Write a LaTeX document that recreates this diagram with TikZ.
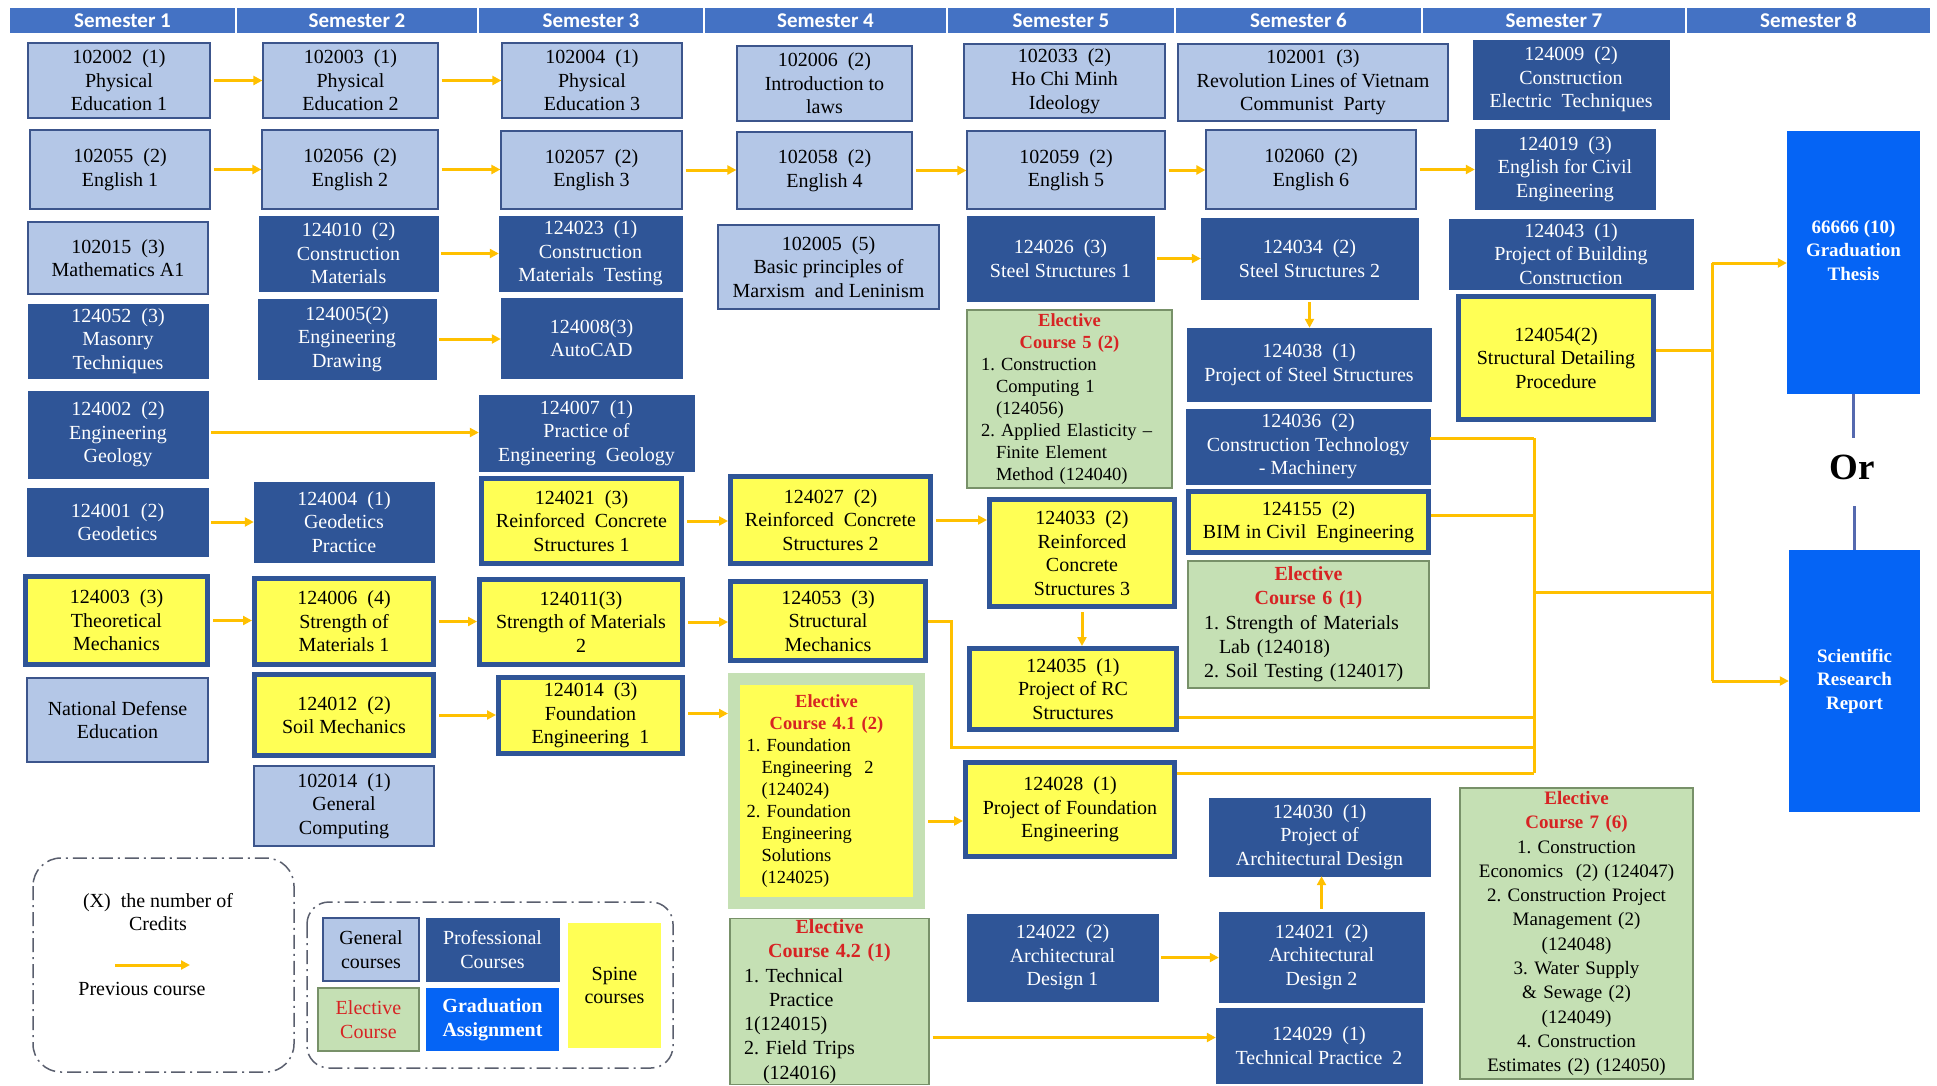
\documentclass[tikz,border=0pt]{standalone}
\usepackage{fontspec}
\setmainfont{Liberation Serif}
\newfontfamily\semfont{Carlito}
\usetikzlibrary{arrows.meta}
\frenchspacing

\definecolor{genblue}{RGB}{180,199,231}
\definecolor{genline}{RGB}{60,85,140}
\definecolor{profblue}{RGB}{47,85,151}
\definecolor{spineyellow}{RGB}{255,255,85}
\definecolor{electgreen}{RGB}{197,224,180}
\definecolor{electline}{RGB}{120,145,105}
\definecolor{electred}{RGB}{215,35,35}
\definecolor{gradblue}{RGB}{5,100,245}
\definecolor{headblue}{RGB}{68,114,196}
\definecolor{linkyellow}{RGB}{255,192,0}
\definecolor{orblue}{RGB}{85,105,175}
\definecolor{keyline}{RGB}{90,95,110}

\newcommand{\elhead}[1]{\makebox[\hsize]{\bfseries\color{electred}#1}}
\newcommand{\subind}{\hspace*{15pt}}

\tikzset{
  sz/.style 2 args={minimum width=#1, minimum height=#2},
  course/.style={inner sep=1pt, align=center, font=\fontsize{20}{23.5}\selectfont},
  gen/.style={course, fill=genblue, draw=genline, line width=1.2pt},
  prof/.style={course, fill=profblue, draw=profblue, text=white},
  spine/.style={course, fill=spineyellow, draw=profblue, line width=5pt},
  elect/.style={inner sep=1pt, align=left, fill=electgreen, draw=electline, line width=1.3pt, font=\fontsize{20}{24.3}\selectfont},
  electsm/.style={elect, font=\fontsize{18.5}{22}\selectfont},
  grad/.style={course, fill=gradblue, text=white, font=\fontsize{19}{23.5}\selectfont\bfseries},
  semhead/.style={fill=headblue, draw=white, line width=1.5pt, text=white, minimum height=26, inner sep=0pt, font=\semfont\fontsize{21}{24}\selectfont\bfseries},
  prereq/.style={draw=linkyellow, line width=3pt, -{Triangle[length=9pt,width=9pt]}, shorten <=3pt},
  feed/.style={draw=linkyellow, line width=3pt},
  orconn/.style={draw=orblue, line width=3pt},
  keyframe/.style={draw=keyline, line width=1.5pt, dash pattern=on 14pt off 5pt on 2pt off 5pt},
}

\begin{document}
\begin{tikzpicture}[x=1pt, y=-1pt]
    \useasboundingbox (0,0) rectangle (1937,1085);
    \fill[white] (0,0) rectangle (1937,1085);

    % semester bar
    \foreach \xa/\xb [count=\i] in {9/236,236/478,478/704,704/947,947/1175,1175/1422,1422/1686,1686/1931}
        \node[semhead, minimum width=\xb-\xa] (sem\i) at ({(\xa+\xb)/2},20.5) {Semester \i};

    % general courses
    \node[gen, sz={182}{75}] (g102002) at (119,80.5) {102002~~(1)\\Physical\\Education 1};
    \node[gen, sz={175}{75}] (g102003) at (350.5,80.5) {102003~~(1)\\Physical\\Education 2};
    \node[gen, sz={180}{75}] (g102004) at (592,80.5) {102004~~(1)\\Physical\\Education 3};
    \node[gen, sz={175}{75}] (g102006) at (824.5,83.5) {102006~~(2)\\Introduction to\\laws};
    \node[gen, sz={201}{74}] (g102033) at (1064.5,81) {102033~~(2)\\Ho Chi Minh\\Ideology};
    \node[gen, sz={270}{77}] (g102001) at (1313,82.5) {102001~~(3)\\Revolution Lines of Vietnam\\Communist~~Party};
    \node[gen, sz={180}{79}] (g102055) at (120,169.5) {102055~~(2)\\English 1};
    \node[gen, sz={176}{79}] (g102056) at (350,169.5) {102056~~(2)\\English 2};
    \node[gen, sz={181}{78}] (g102057) at (591.5,170) {102057~~(2)\\English 3};
    \node[gen, sz={175}{77}] (g102058) at (824.5,170.5) {102058~~(2)\\English 4};
    \node[gen, sz={198}{78}] (g102059) at (1066,170) {102059~~(2)\\English 5};
    \node[gen, sz={210}{79}] (g102060) at (1311,169.5) {102060~~(2)\\English 6};
    \node[gen, sz={180}{72}] (g102015) at (118,258) {102015~~(3)\\Mathematics A1};
    \node[gen, sz={221}{84}] (g102005) at (828.5,267) {102005~~(5)\\Basic principles of\\Marxism~~and Leninism};
    \node[gen, sz={181}{84}] (gNDE) at (117.5,720) {National Defense\\Education};
    \node[gen, sz={180}{80}] (g102014) at (344,806) {102014~~(1)\\General\\Computing};

    % professional courses
    \node[prof, sz={179}{75}] (p124010) at (348.5,253.5) {124010~~(2)\\Construction\\Materials};
    \node[prof, sz={183}{75}] (p124023) at (590.5,253.5) {124023~~(1)\\Construction\\Materials~~Testing};
    \node[prof, sz={180}{74}] (p124052) at (118,341) {124052~~(3)\\Masonry\\Techniques};
    \node[prof, sz={178}{80}] (p124005) at (347,339) {124005(2)\\Engineering\\Drawing};
    \node[prof, sz={181}{80}] (p124008) at (591.5,338) {124008(3)\\AutoCAD};
    \node[prof, sz={180}{87}] (p124002) at (118,434.5) {124002~~(2)\\Engineering\\Geology};
    \node[prof, sz={215}{76}] (p124007) at (586.5,433) {124007~~(1)\\Practice of\\Engineering~~Geology};
    \node[prof, sz={181}{68}] (p124001) at (117.5,522) {124001~~(2)\\Geodetics};
    \node[prof, sz={180}{80}] (p124004) at (344,522) {124004~~(1)\\Geodetics\\Practice};
    \node[prof, sz={187}{85}] (p124026) at (1060.5,258.5) {124026~~(3)\\Steel Structures 1};
    \node[prof, sz={217}{81}] (p124034) at (1309.5,258.5) {124034~~(2)\\Steel Structures 2};
    \node[prof, sz={244}{73}] (p124038) at (1309,364.5) {124038~~(1)\\Project of Steel Structures};
    \node[prof, sz={244}{75}] (p124036) at (1308,446.5) {124036~~(2)\\Construction Technology\\- Machinery};
    \node[prof, sz={196}{79}] (p124009) at (1571,79.5) {124009~~(2)\\Construction\\Electric~~Techniques};
    \node[prof, sz={180}{80}] (p124019) at (1565,169) {124019~~(3)\\English for Civil\\Engineering};
    \node[prof, sz={244}{70}] (p124043) at (1571,254) {124043~~(1)\\Project of Building\\Construction};
    \node[prof, sz={221}{78}] (p124030) at (1319.5,837) {124030~~(1)\\Project of\\Architectural Design};
    \node[prof, sz={191}{87}] (p124022) at (1062.5,957.5) {124022~~(2)\\Architectural\\Design 1};
    \node[prof, sz={205}{90}] (p124021b) at (1321.5,957) {124021~~(2)\\Architectural\\Design 2};
    \node[prof, sz={206}{75}] (p124029) at (1319,1045.5) {124029~~(1)\\Technical Practice~~2};

    % spine courses
    \node[spine, sz={200}{85}] (s124021) at (581.5,521) {124021~~(3)\\Reinforced~~Concrete\\Structures 1};
    \node[spine, sz={182}{88}] (s124003) at (116.5,620.5) {124003~~(3)\\Theoretical\\Mechanics};
    \node[spine, sz={179}{86}] (s124006) at (344,621.5) {124006~~(4)\\Strength of\\Materials 1};
    \node[spine, sz={203}{85}] (s124011) at (581,622) {124011(3)\\Strength of Materials\\2};
    \node[spine, sz={179}{81}] (s124012) at (344,715) {124012~~(2)\\Soil Mechanics};
    \node[spine, sz={184}{76}] (s124014) at (590.5,715.5) {124014~~(3)\\Foundation\\Engineering~~1};
    \node[spine, sz={200}{87}] (s124027) at (830.5,520) {124027~~(2)\\Reinforced~~Concrete\\Structures 2};
    \node[spine, sz={195}{79}] (s124053) at (828,621) {124053~~(3)\\Structural\\Mechanics};
    \node[spine, sz={185}{107}] (s124033) at (1082,553) {124033~~(2)\\Reinforced\\Concrete\\Structures 3};
    \node[spine, sz={207}{81}] (s124035) at (1073,689) {124035~~(1)\\Project of RC\\Structures};
    \node[spine, sz={209}{94}] (s124028) at (1070,809.5) {124028~~(1)\\Project of Foundation\\Engineering};
    \node[spine, sz={240}{61}] (s124155) at (1308.5,522) {124155~~(2)\\BIM in Civil~~Engineering};
    \node[spine, sz={195}{123}] (s124054) at (1556,358) {124054(2)\\Structural Detailing\\Procedure};

    % elective courses
    \node[electsm, sz={205}{178}, text width=177] (e5) at (1069.5,399)
        {\elhead{Elective}\\\elhead{Course 5 (2)}\\1. Construction\\\subind Computing 1\\\subind(124056)\\2. Applied Elasticity --\\\subind Finite Element\\\subind Method (124040)};
    \node[elect, sz={241}{127}, text width=209] (e6) at (1308.5,624.5)
        {\elhead{Elective}\\\elhead{Course 6 (1)}\\1. Strength of Materials\\\subind Lab (124018)\\2. Soil Testing (124017)};
    \node[electsm, fill=spineyellow, draw=electgreen, line width=12pt, sz={185}{224}, text width=160] (e41) at (826.5,791)
        {\elhead{Elective}\\\elhead{Course 4.1 (2)}\\1. Foundation\\\subind Engineering~~2\\\subind(124024)\\2. Foundation\\\subind Engineering\\\subind Solutions\\\subind(124025)};
    \node[elect, sz={199}{165}, text width=171] (e42) at (829.5,1001.5)
        {\elhead{Elective}\\\elhead{Course 4.2 (1)}\\1. Technical\\\hspace*{25pt}Practice\\1(124015)\\2. Field Trips\\\hspace*{19pt}(124016)};
    \node[elect, align=center, sz={233}{291}, text width=225, font=\fontsize{19}{24.3}\selectfont] (e7) at (1576.5,933.5)
        {\elhead{Elective}\\\elhead{Course 7 (6)}\\1. Construction\\Economics~~(2)~(124047)\\2. Construction Project\\Management (2)\\(124048)\\3. Water Supply\\\& Sewage (2)\\(124049)\\4. Construction\\Estimates (2)~(124050)};

    % graduation
    \node[grad, sz={133}{263}, text depth=25pt] (thesis) at (1853.5,262.5) {66666 (10)\\Graduation\\Thesis};
    \node[grad, sz={131}{262}] (research) at (1854.5,681) {Scientific\\Research\\Report};
    \node[font=\fontsize{37}{40}\selectfont\bfseries] (ortext) at (1852,467) {Or};
    \draw[orconn] (thesis.south) -- ++(0,44);
    \draw[orconn] (research.north) -- ++(0,-44);

    % prerequisites
    \draw[prereq] (g102002.east) -- (g102002.east -| g102003.west);
    \draw[prereq] (g102003.east) -- (g102003.east -| g102004.west);
    \draw[prereq] (g102055.east) -- (g102055.east -| g102056.west);
    \draw[prereq] (g102056.east) -- (g102056.east -| g102057.west);
    \draw[prereq] (g102057.east) -- (g102057.east -| g102058.west);
    \draw[prereq] (g102058.east) -- (g102058.east -| g102059.west);
    \draw[prereq] (g102059.east) -- (g102059.east -| g102060.west);
    \draw[prereq] (g102060.east) -- (g102060.east -| p124019.west);
    \draw[prereq] (p124010.east) -- (p124010.east -| p124023.west);
    \draw[prereq] (p124005.east) -- (p124005.east -| p124008.west);
    \draw[prereq] ([yshift=2pt]p124002.east) -- ([yshift=2pt]p124002.east -| p124007.west);
    \draw[prereq] (p124001.east) -- (p124001.east -| p124004.west);
    \draw[prereq] (s124003.east) -- (s124003.east -| s124006.west);
    \draw[prereq] (s124006.east) -- (s124006.east -| s124011.west);
    \draw[prereq] (s124012.east) -- (s124012.east -| s124014.west);
    \draw[prereq] (s124021.east) -- (s124021.east -| s124027.west);
    \draw[prereq] (s124011.east) -- (s124011.east -| s124053.west);
    \draw[prereq] ([yshift=2pt]s124014.east) -- ([yshift=2pt]s124014.east -| e41.west);
    \draw[prereq] (s124027.east) -- (s124027.east -| s124033.west);
    \draw[prereq] (p124026.east) -- (p124026.east -| p124034.west);
    \draw[prereq] ([yshift=-30pt]e41.east) -- ([yshift=-30pt]e41.east -| s124028.west);
    \draw[prereq] ([yshift=-36pt]e42.east) -- ([yshift=-36pt]e42.east -| p124029.west);
    \draw[prereq] (p124022.east) -- (p124022.east -| p124021b.west);
    \draw[prereq] (p124021b.north) -- (p124021b.north |- p124030.south);
    \draw[prereq] (p124034.south) -- (p124034.south |- p124038.north);
    \draw[prereq] (s124033.south) -- (s124033.south |- s124035.north);

    % lines to graduation
    \coordinate (busLtop) at (1534,438);
    \coordinate (busLbot) at (1534,773);
    \coordinate (busLmid) at (1534,592);
    \coordinate (busRtop) at (1712,263);
    \coordinate (busRmid) at (1712,592);
    \coordinate (busRbot) at (1712,681);
    \coordinate (lowbend) at (951,747);
    \draw[feed] ([yshift=8pt]p124036.east) -- ([yshift=8pt]p124036.east -| busLtop);
    \draw[feed] ([yshift=7pt]s124155.east) -- ([yshift=7pt]s124155.east -| busLtop);
    \draw[feed] ([yshift=-28pt]s124035.east) -- ([yshift=-28pt]s124035.east -| busLtop);
    \draw[feed] (s124053.east) -| (lowbend) -- (lowbend -| busLtop);
    \draw[feed] ([yshift=36pt]s124028.east) -- ([yshift=36pt]s124028.east -| busLtop);
    \draw[feed] ([yshift=8pt]s124054.east) -- ([yshift=8pt]s124054.east -| busRtop);
    \draw[feed] (busLtop) -- (busLbot);
    \draw[feed] (busLmid) -- (busRmid);
    \draw[feed] (busRtop) -- (busRbot);
    \draw[prereq, shorten <=0pt] (busRtop) -- (busRtop -| thesis.west);
    \draw[prereq, shorten <=0pt] (busRbot) -- (busRbot -| research.west);

    % legend
    \draw[keyframe, rounded corners=28pt] (33,858) rectangle (294,1072);
    \node[course] (legcredit) at (158,912) {(X)~ the number of\\Credits};
    \coordinate (legA) at (115,965);
    \coordinate (legB) at (190,965);
    \draw[prereq, shorten <=0pt] (legA) -- (legB);
    \node[course] (legprev) at (142,989) {Previous course};

    \draw[keyframe, rounded corners=22pt] (307,902) rectangle (673,1068);
    \node[gen, sz={96}{63}] (keygen) at (371,949.5) {General\\courses};
    \node[prof, sz={133}{63}] (keyprof) at (492.5,949.5) {Professional\\Courses};
    \node[course, fill=electgreen, draw=electline, line width=1.3pt, text=electred, sz={101}{63}] (keyelect) at (368.5,1019.5) {Elective\\Course};
    \node[grad, font=\fontsize{20}{24}\selectfont\bfseries, sz={133}{63}] (keygrad) at (492.5,1019.5) {Graduation\\Assignment};
    \node[course, fill=spineyellow, sz={93}{125}] (keyspine) at (614.5,985.5) {Spine\\courses};
\end{tikzpicture}
\end{document}
